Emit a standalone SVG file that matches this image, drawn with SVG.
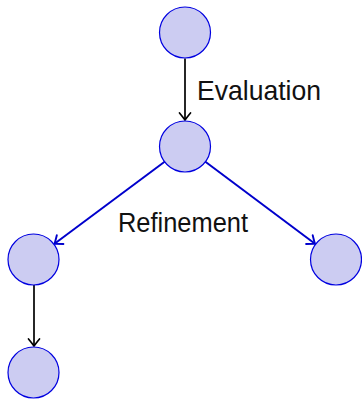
<svg xmlns="http://www.w3.org/2000/svg" width="362" height="399" viewBox="0 0 362 399">
<style>
.node{fill:#ccccf2;stroke:#0000e0;stroke-width:1.2}
.blk{stroke:#000;stroke-width:1.7;fill:none}
.blu{stroke:#0000cc;stroke-width:2;fill:none}
.lbl{font-family:"Liberation Sans",Arial,sans-serif;font-size:27.5px;fill:#111}
</style>
<defs>
<marker id="ak" markerUnits="userSpaceOnUse" viewBox="-9 -7 11 14" markerWidth="11" markerHeight="14" refX="0" refY="0" orient="auto">
<path d="M-7,-5.5 Q-1.5,-1 0,0 Q-1.5,1 -7,5.5" fill="none" stroke="#000" stroke-width="1.7" stroke-linecap="round" stroke-linejoin="round"/>
</marker>
<marker id="ab" markerUnits="userSpaceOnUse" viewBox="-9 -7 11 14" markerWidth="11" markerHeight="14" refX="0" refY="0" orient="auto">
<path d="M-7,-5.5 Q-1.5,-1 0,0 Q-1.5,1 -7,5.5" fill="none" stroke="#0000cc" stroke-width="1.9" stroke-linecap="round" stroke-linejoin="round"/>
</marker>
</defs>
<g id="connectors">
<line class="blk" x1="185" y1="58.5" x2="185" y2="120" marker-end="url(#ak)"/>
<line class="blu" x1="164.6" y1="161.7" x2="54.5" y2="243.8" marker-end="url(#ab)"/>
<line class="blu" x1="205.4" y1="161.7" x2="315" y2="243.8" marker-end="url(#ab)"/>
<line class="blk" x1="34" y1="285" x2="34" y2="346" marker-end="url(#ak)"/>
</g>
<g id="n1"><circle class="node" cx="185" cy="32.5" r="25.5"/></g>
<g id="n2"><circle class="node" cx="185" cy="146.5" r="25.5"/></g>
<g id="n3"><circle class="node" cx="33.5" cy="259.5" r="25.5"/></g>
<g id="n4"><circle class="node" cx="336" cy="259.5" r="25.5"/></g>
<g id="n5"><circle class="node" cx="33.5" cy="372.5" r="25.5"/></g>
<g id="labels">
<text class="lbl" x="197" y="100" textLength="124" lengthAdjust="spacingAndGlyphs">Evaluation</text>
<text class="lbl" x="118" y="232" textLength="130" lengthAdjust="spacingAndGlyphs">Refinement</text>
</g>
</svg>
